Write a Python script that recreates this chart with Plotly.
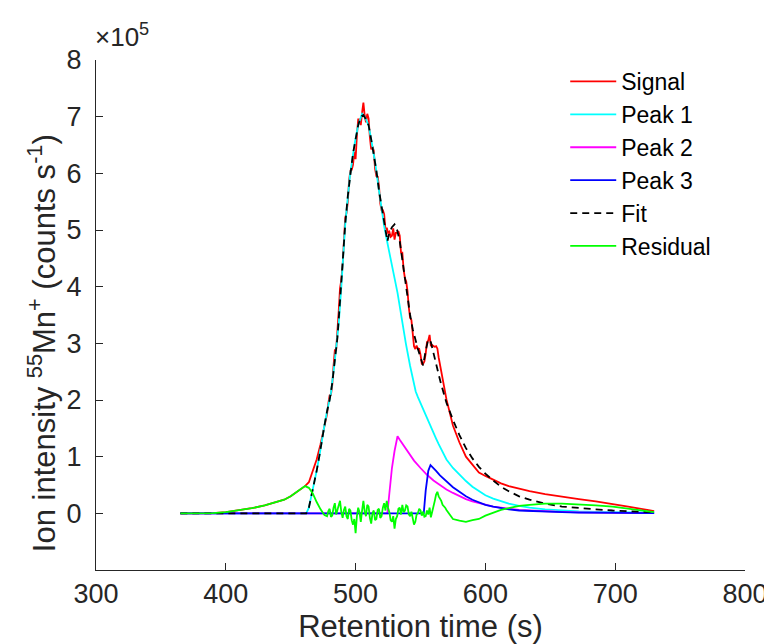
import plotly.graph_objects as go

# ---- data (intensity in units of 1e5 counts s^-1, time in s) ----
t_signal = [365, 380, 390, 400, 410, 420, 430, 440, 445, 450, 455, 458, 461, 464, 467, 470, 473, 476,
            478, 479, 480, 481, 482, 483, 484, 485, 486, 487, 488, 489, 490, 491, 492, 493, 494, 495, 496, 497,
            498, 499, 500, 501, 502, 503, 504, 505, 506, 507, 508, 509, 510, 511, 512, 513, 514, 515, 516, 517,
            518, 519, 520, 521, 522, 523, 524, 525, 526, 527, 528, 529, 530, 531, 532, 533, 534, 535, 536, 537,
            538, 539, 540, 541, 542, 543, 544, 545, 546, 547, 548, 549, 550, 551, 552, 553, 554, 555, 556, 557,
            558, 559, 560, 561, 562, 563, 564, 565, 566, 567, 568, 569, 570,
            575, 580, 585, 590, 595, 600, 606, 612, 618, 626, 634, 646, 659, 672, 685, 698, 710, 720, 730]
signal = [0, 0, 0.005, 0.02, 0.05, 0.09, 0.14, 0.2, 0.24, 0.3, 0.38, 0.44, 0.48, 0.55, 0.75, 0.95, 1.22, 1.52,
          1.75, 1.94, 2.08, 2.09, 2.26, 2.6, 2.88, 2.88, 3.15, 3.57, 3.97, 4.12, 4.37, 4.84, 5.22, 5.3, 5.5, 5.88, 6.05, 6.06,
          6.15, 6.38, 6.25, 6.67, 6.95, 6.95, 6.85, 7.07, 7.25, 7.02, 6.9, 7.05, 6.97, 6.64, 6.42, 6.48, 6.4, 6.08, 5.95, 5.94,
          5.78, 5.47, 5.35, 5.35, 5.28, 5.01, 5.04, 4.95, 4.97, 4.88, 4.9, 5.03, 4.83, 4.95, 4.95, 4.98, 4.9, 4.6, 4.6, 4.3,
          4.15, 4.09, 3.92, 3.63, 3.45, 3.41, 3.13, 2.95, 2.9, 2.96, 2.9, 2.9, 2.8, 2.64, 2.64, 2.68, 2.82, 3.02, 3.05, 3.15,
          2.95, 2.97, 2.95, 2.94, 2.95, 2.91, 2.75, 2.62, 2.49, 2.33, 2.23, 2.12, 2.01,
          1.55, 1.25, 1.0, 0.85, 0.72, 0.66, 0.59, 0.53, 0.48, 0.43, 0.39, 0.34, 0.29, 0.25, 0.21, 0.17, 0.12, 0.08, 0.04]

t_residual = t_signal
residual = [0, 0, 0.005, 0.02, 0.05, 0.09, 0.14, 0.2, 0.24, 0.3, 0.38, 0.44, 0.48, 0.45, 0.35, 0.2, 0.07, -0.03,
            -0.05, 0.04, 0.08, -0.06, -0.04, 0.1, 0.18, -0.02, 0.05, 0.15, 0.22, 0.02, -0.08, 0.06, 0.12, -0.05, -0.1, 0.08, 0.05, -0.12,
            -0.2, -0.1, -0.35, -0.05, 0.1, 0.02, -0.15, 0.05, 0.22, 0.03, -0.05, 0.15, 0.12, -0.08, -0.18, 0.0, 0.05, -0.12, -0.1, 0.06,
            0.08, -0.08, -0.05, 0.1, 0.18, 0.05, 0.22, 0.1, 0.02, -0.12, -0.15, -0.05, -0.27, -0.1, -0.05, 0.08, 0.1, -0.02, 0.15, 0.02,
            0.05, 0.14, 0.12, -0.02, -0.05, 0.03, -0.12, -0.2, -0.15, -0.02, 0.0, 0.08, 0.05, -0.04, 0.03, -0.06, -0.05, 0.05, -0.02, 0.1,
            -0.07, 0.05, 0.14, 0.22, 0.33, 0.38, 0.3, 0.26, 0.22, 0.15, 0.13, 0.1, 0.06,
            -0.1, -0.13, -0.15, -0.12, -0.1, -0.04, 0.01, 0.06, 0.09, 0.13, 0.15, 0.17, 0.17, 0.16, 0.14, 0.12, 0.08, 0.05, 0.02]

t_peak1 = [365, 460, 462, 464, 466, 468, 470, 472, 474, 476, 478, 481, 484, 487, 489, 492, 495.6, 499.4, 502, 505,
           507, 510, 512, 515, 518, 522, 524.7, 527.3, 530, 532.3, 535, 538.7, 542, 546.3, 548, 550, 552, 554, 556,
           558, 560, 562, 564, 566, 568, 570, 575, 580, 585, 590, 595, 600, 606, 612, 618, 626, 634, 646, 659, 672,
           685, 698, 710, 730]
peak1 = [0, 0, 0, 0.1, 0.3, 0.5, 0.75, 1.0, 1.3, 1.55, 1.8, 2.12, 2.7, 3.35, 4.0, 5.1, 5.95, 6.54, 6.85, 7.05,
         7.0, 6.85, 6.6, 6.2, 5.7, 5.07, 4.75, 4.48, 4.15, 3.89, 3.5, 3.0, 2.6, 2.15, 2.05, 1.95, 1.85, 1.75, 1.65,
         1.55, 1.43, 1.32, 1.22, 1.12, 1.03, 0.95, 0.8, 0.68, 0.57, 0.47, 0.39, 0.32, 0.26, 0.21, 0.17, 0.13, 0.1, 0.07,
         0.05, 0.035, 0.025, 0.02, 0.015, 0.01]

t_peak2 = [365, 524.5, 526, 528, 530, 532.3, 534, 537, 540, 545, 550, 555, 560, 565, 570, 575, 580, 585, 590, 595,
           600, 606, 612, 618, 626, 634, 646, 659, 672, 685, 698, 710, 730]
peak2 = [0, 0, 0.35, 0.8, 1.1, 1.36, 1.3, 1.2, 1.09, 0.93, 0.8, 0.68, 0.58, 0.5, 0.42, 0.36, 0.3, 0.25, 0.21, 0.18,
         0.15, 0.12, 0.1, 0.08, 0.06, 0.05, 0.035, 0.025, 0.018, 0.012, 0.008, 0.005, 0.003]

t_peak3 = [365, 552.5, 554, 556, 557.7, 560, 562, 565, 570, 575, 580, 585, 590, 595, 600, 606, 612, 618, 626, 634,
           646, 659, 672, 685, 698, 710, 730]
peak3 = [0, 0, 0.4, 0.75, 0.85, 0.8, 0.75, 0.67, 0.56, 0.46, 0.38, 0.3, 0.24, 0.19, 0.15, 0.12, 0.09, 0.07, 0.05, 0.04,
         0.028, 0.02, 0.014, 0.01, 0.007, 0.005, 0.003]

t_fit = [365, 460, 462, 464, 466, 468, 470, 472, 474, 476, 478, 480, 482, 484, 486, 488, 490, 492, 494, 496, 498,
         500, 502, 504, 506, 508, 510, 512, 514, 516, 518, 520, 522, 524.5, 526, 528, 530, 532, 534, 536, 538, 540,
         542, 544, 546, 548, 550, 552, 554, 556, 558, 560, 562, 564, 566, 568, 570, 575, 580, 585, 590, 595, 600,
         606, 612, 618, 626, 634, 646, 659, 672, 685, 698, 710, 720, 730]
fit = [0, 0, 0, 0.1, 0.3, 0.5, 0.75, 1.0, 1.3, 1.55, 1.8, 2.0, 2.3, 2.7, 3.1, 3.75, 4.45, 5.1, 5.6, 6.0, 6.35,
       6.6, 6.85, 7.0, 7.03, 6.95, 6.85, 6.6, 6.35, 6.05, 5.7, 5.4, 5.1, 4.8, 4.95, 5.05, 5.1, 5.0, 4.8, 4.45, 4.1, 3.8,
       3.5, 3.25, 3.05, 2.9, 2.75, 2.61, 2.87, 3.07, 3.02, 2.81, 2.62, 2.45, 2.27, 2.1, 1.95, 1.65, 1.38, 1.15, 0.97, 0.82,
       0.7, 0.58, 0.47, 0.39, 0.3, 0.24, 0.17, 0.12, 0.09, 0.07, 0.05, 0.04, 0.03, 0.02]

x_ticks = [300, 400, 500, 600, 700, 800]
y_ticks = [0, 1, 2, 3, 4, 5, 6, 7, 8]

series = [
    ("Signal", t_signal, signal, "#ff0000", "solid"),
    ("Peak 1", t_peak1, peak1, "#00ffff", "solid"),
    ("Peak 2", t_peak2, peak2, "#ff00ff", "solid"),
    ("Peak 3", t_peak3, peak3, "#0000ff", "solid"),
    ("Fit", t_fit, fit, "#000000", "7px,5px"),
    ("Residual", t_residual, residual, "#00ff00", "solid"),
]

fig = go.Figure()
for name, xs, ys, col, dash in series:
    fig.add_trace(go.Scatter(x=xs, y=ys, mode="lines", name=name,
                             line=dict(color=col, width=1.8, dash=dash)))

axis_col = "#262626"
FONT = "Liberation Sans, Arial, sans-serif"
fig.update_layout(
    width=772, height=644,
    margin=dict(l=88, r=27, t=52, b=82),
    plot_bgcolor="white", paper_bgcolor="white",
    font=dict(family=FONT, size=27, color=axis_col),
    showlegend=True,
    legend=dict(x=0.723, y=1.0, xanchor="left", yanchor="top", itemwidth=46,
                bgcolor="rgba(0,0,0,0)", borderwidth=0,
                font=dict(size=23, color="#000000"), tracegroupgap=0),
)
fig.update_xaxes(range=[300, 800], tickvals=x_ticks, ticktext=[str(v) for v in x_ticks],
                 ticks="inside", ticklen=7, tickcolor=axis_col, showline=True, linecolor=axis_col,
                 linewidth=1, showgrid=False, zeroline=False, ticklabelstandoff=0,
                 title=dict(text="Retention time (s)", font=dict(size=31), standoff=0))
fig.update_yaxes(range=[-1, 8], tickvals=y_ticks, ticktext=[str(v) for v in y_ticks],
                 ticks="inside", ticklen=7, tickcolor=axis_col, showline=True, linecolor=axis_col,
                 linewidth=1, showgrid=False, zeroline=False, ticklabelstandoff=8)

fig.add_annotation(text="Ion intensity <sup>55</sup>Mn<sup>+</sup> (counts s<sup>-1</sup>)",
                   xref="paper", yref="paper", x=-0.083, y=0.445, xanchor="center", yanchor="middle",
                   textangle=-90, showarrow=False, font=dict(size=31, color=axis_col))
fig.add_annotation(text="×10<sup>5</sup>", xref="paper", yref="paper", x=-0.004, y=1.012,
                   xanchor="left", yanchor="bottom", showarrow=False, font=dict(size=26, color=axis_col))

fig.write_html("out.html")
